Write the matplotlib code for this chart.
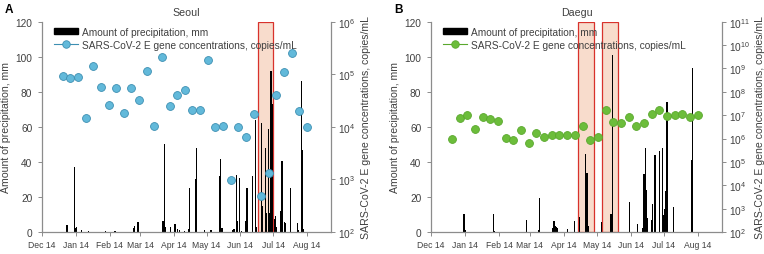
import matplotlib
matplotlib.use('Agg')
import matplotlib.pyplot as plt
from matplotlib.patches import Rectangle
from matplotlib.lines import Line2D
from matplotlib.patches import Patch

plt.rcParams['font.family'] = ['Liberation Sans', 'DejaVu Sans']
plt.rcParams['mathtext.default'] = 'regular'

# days counted from Dec 14
month_days = [0, 31, 62, 90, 121, 151, 182, 212, 243]
month_labels = ['Dec 14', 'Jan 14', 'Feb 14', 'Mar 14', 'Apr 14', 'May 14', 'Jun 14', 'Jul 14', 'Aug 14']

# weekly sampling days
sample_days = [19 + 7 * i for i in range(33)]

# Seoul
seoul_rain_days = [23, 30, 31, 32, 36, 43, 58, 67, 84, 85, 88, 111, 112, 113, 118, 122, 124, 126, 131,
                   134, 135, 141, 142, 149, 155, 163, 164, 165, 175, 176, 178, 179, 181, 183, 187, 188,
                   193, 196, 197, 201, 202, 205, 206, 208, 209, 210, 211, 213, 214, 215, 219, 220, 222,
                   223, 228, 234, 235, 238, 239, 240]
seoul_rain = [4, 37.3, 2, 3, 1, 0.5, 0.3, 0.3, 2, 3.6, 5.7, 6.3, 50.2, 2.7, 3, 4.4, 1.7, 1, 0.5,
              1.5, 25.1, 30, 47.7, 1, 1.1, 32, 41.8, 2.3, 1, 1.5, 32.5, 6.5, 30.6, 0.3, 6.5, 24.9,
              32, 64, 3, 62.2, 15, 47.7, 11, 58.8, 11, 92, 73, 7.4, 9.3, 2.7, 12.2, 40.5, 5.5,
              5, 25.1, 5, 1, 86.3, 47, 1.5]
seoul_log = [4.97, 4.92, 4.95, 4.16, 5.15, 4.75, 4.41, 4.73, 4.27, 4.74, 4.52, 5.06, 4.02, 5.32,
             4.40, 4.61, 4.71, 4.32, 4.32, 5.28, 3.99, 4.02, 2.98, 4.00, 3.81, 4.24, 2.69, 3.12,
             4.61, 5.04, 5.40, 4.30, 3.99]
seoul_boxes = [(198, 212)]

# Daegu
daegu_rain_days = [30, 31, 57, 58, 87, 98, 99, 111, 112, 113, 114, 115, 124, 131, 135, 141, 142, 143,
                   155, 164, 165, 181, 188, 193, 194, 195, 196, 197, 201, 202, 204, 208, 211, 212,
                   213, 214, 215, 221, 237, 238]
daegu_rain = [10, 1.1, 10.3, 0.5, 6.7, 1.3, 19.2, 2, 6.3, 3.6, 2.9, 2.5, 1.5, 6.1, 8.6, 44.5, 33.7, 3.2,
              5.7, 10.3, 101, 17.3, 4.6, 2.1, 33, 47.9, 24.2, 8.2, 6.7, 16, 43.7, 46.4, 47.9, 9.6,
              13.1, 23.5, 74, 14.3, 40.9, 93.3]
daegu_log = [5.99, 6.88, 7.02, 6.41, 6.93, 6.85, 6.75, 6.04, 5.94, 6.37, 5.82, 6.25, 6.08, 6.15,
             6.16, 6.15, 6.15, 6.55, 5.95, 6.05, 7.22, 6.71, 6.68, 6.93, 6.54, 6.68, 7.06, 7.22,
             6.95, 6.99, 7.04, 6.92, 7.02]
daegu_boxes = [(134, 148), (156, 170)]

W, H = 764, 255
fig = plt.figure(figsize=(W / 100, H / 100), dpi=100)

gray = '#8c8c8c'
tcol = '#404040'
fs = 7.3


def panel(left, right, letter, title, rain_days, rain, logc, boxes, top_exp, color, edge):
    ax = fig.add_axes([left / W, 22 / H, (right - left) / W, (233 - 22.7) / H])
    for b0, b1 in boxes:
        ax.add_patch(Rectangle((b0, 0), b1 - b0, 120, facecolor='#f8dccc', edgecolor='#d8322c',
                               lw=0.9, zorder=0.5))
    ax.bar(rain_days, rain, width=1.1, color='black', zorder=2)
    ax.set_xlim(0, 265)
    ax.set_ylim(0, 120)
    ax.set_yticks(range(0, 121, 20))
    ax.set_xticks(month_days)
    ax.set_xticklabels(month_labels)
    for s in ['top', 'right']:
        ax.spines[s].set_visible(False)
    for s in ['left', 'bottom']:
        ax.spines[s].set_color(gray)
        ax.spines[s].set_linewidth(0.9)
    ax.tick_params(axis='both', direction='out', length=3, width=0.7, color=gray,
                   labelsize=fs, labelcolor=tcol, pad=2)
    ax.tick_params(axis='y', pad=4)
    ax.tick_params(axis='x', labelsize=6.2, pad=3)
    ax.set_ylabel('Amount of precipitation, mm', fontsize=fs + 0.3, color=tcol, labelpad=3)

    ax2 = ax.twinx()
    ax2.set_yscale('log')
    ax2.set_ylim(1e2, 10 ** top_exp)
    ax2.set_yticks([10 ** e for e in range(2, top_exp + 1)])
    ax2.minorticks_off()
    for s in ['top', 'left', 'bottom']:
        ax2.spines[s].set_visible(False)
    ax2.spines['right'].set_color(gray)
    ax2.spines['right'].set_linewidth(0.9)
    ax2.tick_params(axis='y', direction='out', length=3, width=0.7, color=gray,
                    labelsize=fs, labelcolor=tcol, pad=2)
    ax2.scatter(sample_days, [10 ** v for v in logc], s=32, color=color, edgecolors=edge,
                linewidths=0.6, zorder=3)
    ax2.set_ylabel('SARS-CoV-2 E gene concentrations, copies/mL', fontsize=fs + 0.3,
                   color=tcol, labelpad=4)

    handles = [Patch(facecolor='black', edgecolor='black'),
               Line2D([0], [0], color=edge, lw=0.8, marker='o', markersize=5.4,
                      markerfacecolor=color, markeredgecolor=edge, markeredgewidth=0.6)]
    ax2.legend(handles, ['Amount of precipitation, mm',
                         'SARS-CoV-2 E gene concentrations, copies/mL'],
               loc='upper left', bbox_to_anchor=(0.025, 1.0), frameon=False, fontsize=fs,
               handlelength=2.3, handleheight=0.6, handletextpad=0.4, labelspacing=0.3,
               borderaxespad=0.1, labelcolor=tcol)
    ax.set_title(title, fontsize=fs + 0.4, color=tcol, pad=5)
    fig.text((left - 37) / W, 1 - 10 / H, letter, fontsize=8.5, fontweight='bold', va='center')


panel(42, 331, 'A', 'Seoul', seoul_rain_days, seoul_rain, seoul_log, seoul_boxes, 6,
      '#62b9da', '#3d8fb2')
panel(431, 722, 'B', 'Daegu', daegu_rain_days, daegu_rain, daegu_log, daegu_boxes, 11,
      '#6cbd3b', '#5aa82d')

fig.savefig('out.png', dpi=100)
